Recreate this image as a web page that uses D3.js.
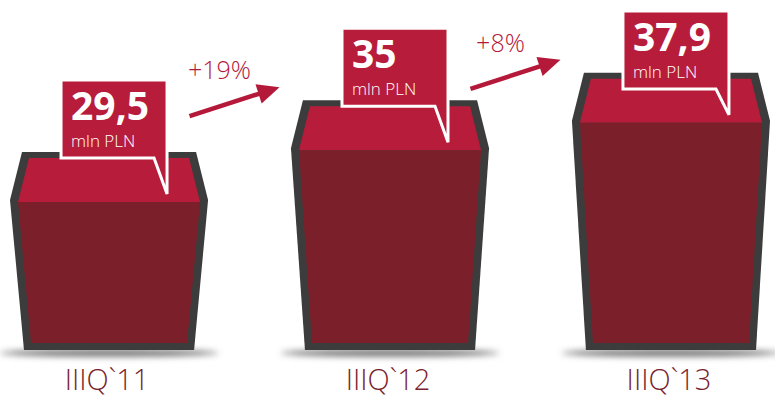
<!DOCTYPE html>
<html>
<head>
<meta charset="utf-8">
<script src="https://cdn.jsdelivr.net/npm/d3@7"></script>
<style>
  body { margin: 0; background: #fff; }
  svg { display: block; }
</style>
</head>
<body>
<div id="chart"></div>
<script>
// data
var categories = ["IIIQ`11", "IIIQ`12", "IIIQ`13"];
var values = [29.5, 35, 37.9];
var valueLabels = ["29,5", "35", "37,9"];
var unitLabel = "mln PLN";
var growthLabels = ["+19%", "+8%"];

var width = 775, height = 400;
var baseY = 350;

var colors = {
    outline: "#3c3c3c",
    top: "#b81c3b",
    front: "#7b1f2b",
    accent: "#b5193a",
    label: "#7a1f2e"
};

var svg = d3.select("#chart").append("svg")
    .attr("width", width)
    .attr("height", height);

var defs = svg.append("defs");
defs.append("filter").attr("id", "blur")
    .attr("x", "-20%").attr("y", "-200%").attr("width", "140%").attr("height", "500%")
    .append("feGaussianBlur").attr("stdDeviation", 3);

var x = d3.scaleBand()
    .domain(categories)
    .range([10, 770])
    .paddingInner(0.295)
    .paddingOuter(0);

var y = d3.scaleLinear()
    .domain([8.5, 40])
    .range([baseY, 53]);

var w = x.bandwidth();

//box outline and faces, all built from the band start and the value
function outerPts(x0, yT) {
    var rim = yT + 48;
    return [[x0 + 12, yT], [x0 + w - 12, yT], [x0 + w, rim], [x0 + w - 14, baseY], [x0 + 14, baseY], [x0, rim]];
}
function topPts(x0, yT) {
    var rim = yT + 48;
    return [[x0 + 19, yT + 6], [x0 + w - 19, yT + 6], [x0 + w - 8, rim + 2], [x0 + 8, rim + 2]];
}
function frontPts(x0, yT) {
    var rim = yT + 48;
    return [[x0 + 8, rim + 2], [x0 + w - 8, rim + 2], [x0 + w - 21, baseY - 7], [x0 + 21, baseY - 7]];
}
function pts(p) { return p.map(function (d) { return d.join(","); }).join(" "); }

//callout box: sits on the box top, but never runs off the top of the page
function calloutTop(yT) { return Math.max(yT + 6 - 78, 11); }

var rows = categories.map(function (c, i) {
    return {cat: c, value: values[i], label: valueLabels[i]};
});

var box = svg.selectAll(".box")
    .data(rows)
    .enter().append("g")
    .attr("class", "box");

//shadow under each box
box.append("ellipse")
    .attr("cx", function (d) { return x(d.cat) + w / 2; })
    .attr("cy", baseY + 3)
    .attr("rx", w / 2 + 10)
    .attr("ry", 3.5)
    .attr("fill", "#6f6f6f")
    .attr("filter", "url(#blur)");

box.append("polygon")
    .attr("points", function (d) { return pts(outerPts(x(d.cat), y(d.value))); })
    .attr("fill", colors.outline);

box.append("polygon")
    .attr("points", function (d) { return pts(topPts(x(d.cat), y(d.value))); })
    .attr("fill", colors.top);

box.append("polygon")
    .attr("points", function (d) { return pts(frontPts(x(d.cat), y(d.value))); })
    .attr("fill", colors.front);

//callouts
var callout = box.append("g").attr("class", "callout");

callout.append("path")
    .attr("d", function (d) {
        var cx = x(d.cat) + w / 2, yT = y(d.value);
        var right = cx + 58, left = right - 106;
        var top = calloutTop(yT), bottom = top + 78;
        return "M" + left + "," + top + "H" + right + "V" + (yT + 42) +
            "L" + (right - 13) + "," + bottom + "H" + left + "Z";
    })
    .attr("fill", colors.top)
    .attr("stroke", "#fff")
    .attr("stroke-width", 3);

callout.append("text")
    .attr("x", function (d) { return x(d.cat) + w / 2 - 38; })
    .attr("y", function (d) { return calloutTop(y(d.value)) + 40; })
    .attr("fill", "#fff")
    .attr("font-family", "'Open Sans', sans-serif")
    .attr("font-weight", "bold")
    .attr("font-size", 39)
    .text(function (d) { return d.label; });

callout.append("text")
    .attr("x", function (d) { return x(d.cat) + w / 2 - 38; })
    .attr("y", function (d) { return calloutTop(y(d.value)) + 67; })
    .attr("fill", "#fff")
    .attr("font-family", "'Open Sans', sans-serif")
    .attr("font-weight", 300)
    .attr("font-size", 17)
    .text(unitLabel);

//growth arrows between boxes
var arrows = growthLabels.map(function (g, i) {
    var mx = (x(categories[i]) + x(categories[i + 1])) / 2 + w / 2;
    var yN = y(values[i + 1]);
    return {label: g, x1: mx - 60, y1: yN + 16, x2: mx + 30, y2: yN - 13};
});

var arrow = svg.selectAll(".arrow")
    .data(arrows)
    .enter().append("g")
    .attr("class", "arrow");

arrow.each(function (d) {
    var g = d3.select(this);
    var dx = d.x2 - d.x1, dy = d.y2 - d.y1;
    var len = Math.sqrt(dx * dx + dy * dy);
    var ux = dx / len, uy = dy / len;
    var bx = d.x2 - 22 * ux, by = d.y2 - 22 * uy;
    g.append("line")
        .attr("x1", d.x1).attr("y1", d.y1)
        .attr("x2", bx + 2 * ux).attr("y2", by + 2 * uy)
        .attr("stroke", colors.accent)
        .attr("stroke-width", 4.5);
    g.append("polygon")
        .attr("points", pts([[d.x2, d.y2], [bx - 10 * uy, by + 10 * ux], [bx + 10 * uy, by - 10 * ux]]))
        .attr("fill", colors.accent);
    g.append("text")
        .attr("x", d.x1 + 30)
        .attr("y", d.y1 - 37)
        .attr("text-anchor", "middle")
        .attr("fill", colors.accent)
        .attr("font-family", "'Open Sans', sans-serif")
        .attr("font-weight", 300)
        .attr("font-size", 25)
        .text(d.label);
});

//category labels
svg.selectAll(".cat")
    .data(categories)
    .enter().append("text")
    .attr("class", "cat")
    .attr("x", function (d) { return x(d) + w / 2 - 2; })
    .attr("y", 390)
    .attr("text-anchor", "middle")
    .attr("fill", colors.label)
    .attr("font-family", "'Open Sans', sans-serif")
    .attr("font-weight", 300)
    .attr("font-size", 29)
    .text(function (d) { return d; });
</script>
</body>
</html>
